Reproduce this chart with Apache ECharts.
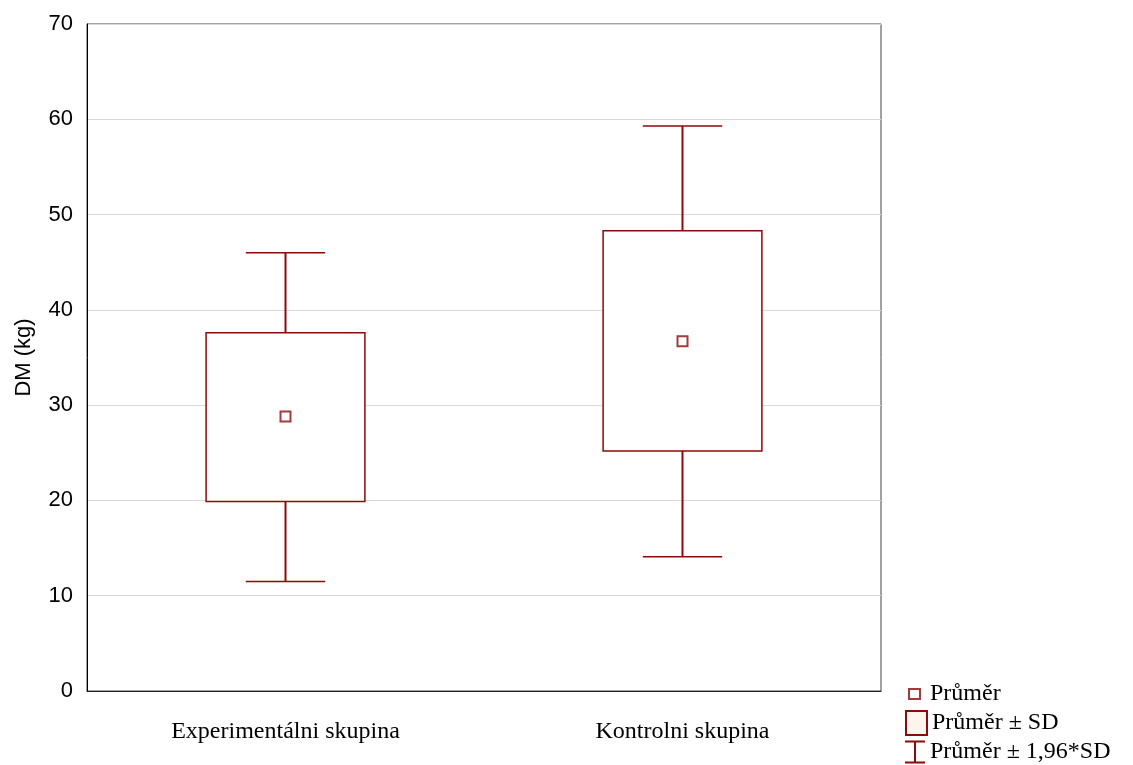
<!DOCTYPE html>
<html>
<head>
<meta charset="utf-8">
<script src="https://cdn.jsdelivr.net/npm/echarts@6/dist/echarts.min.js"></script>
<style>html,body{margin:0;padding:0;background:#fff}#chart{width:1133px;height:765px}</style>
</head>
<body>
<div id="chart"></div>
<script>
const categories = ['Experimentálni skupina', 'Kontrolni skupina'];
const means = [28.8, 36.7];
const sdLow = [19.9, 25.2];
const sdHigh = [37.6, 48.3];
const ciLow = [11.5, 14.1];
const ciHigh = [46.0, 59.3];
const yTicks = [0, 10, 20, 30, 40, 50, 60, 70];

const RED = '#8B0A0A';
const meanData = categories.map((c, i) => [i, means[i]]);
const boxData = categories.map((c, i) => [i, sdLow[i], sdHigh[i]]);
const whiskerData = categories.map((c, i) => [i, ciLow[i], sdLow[i], sdHigh[i], ciHigh[i]]);

const chart = echarts.init(document.getElementById('chart'));
const serif = 'Liberation Serif, Times New Roman, serif';
const sans = 'Liberation Sans, Arial, sans-serif';

function renderBox(params, api) {
  const x = api.value(0);
  const lo = api.coord([x, api.value(1)]);
  const hi = api.coord([x, api.value(2)]);
  const bw = api.size([1, 0])[0] * 0.4;
  return {
    type: 'rect',
    shape: { x: lo[0] - bw / 2, y: hi[1], width: bw, height: lo[1] - hi[1] },
    style: { fill: '#ffffff', stroke: RED, lineWidth: 1.5 }
  };
}
function renderWhisker(params, api) {
  const x = api.value(0);
  const pLo = api.coord([x, api.value(1)]);
  const pBl = api.coord([x, api.value(2)]);
  const pBh = api.coord([x, api.value(3)]);
  const pHi = api.coord([x, api.value(4)]);
  const cw = api.size([1, 0])[0] * 0.2;
  const st = { stroke: RED, lineWidth: 2 };
  const cs = { stroke: RED, lineWidth: 1.5 };
  return {
    type: 'group',
    children: [
      { type: 'line', shape: { x1: pHi[0], y1: pHi[1], x2: pBh[0], y2: pBh[1] }, style: st },
      { type: 'line', shape: { x1: pBl[0], y1: pBl[1], x2: pLo[0], y2: pLo[1] }, style: st },
      { type: 'line', shape: { x1: pHi[0] - cw / 2, y1: pHi[1], x2: pHi[0] + cw / 2, y2: pHi[1] }, style: cs },
      { type: 'line', shape: { x1: pLo[0] - cw / 2, y1: pLo[1], x2: pLo[0] + cw / 2, y2: pLo[1] }, style: cs }
    ]
  };
}

const legendText = { fontFamily: serif, fontSize: 24, color: '#000' };
const option = {
  animation: false,
  backgroundColor: '#ffffff',
  grid: { left: 87, top: 24, right: 252, bottom: 74, show: true, borderColor: '#444', borderWidth: 1, backgroundColor: 'transparent' },
  xAxis: {
    type: 'category',
    data: categories,
    boundaryGap: true,
    axisLine: { lineStyle: { color: '#222', width: 1 } },
    axisTick: { inside: true, alignWithLabel: true, length: 5, lineStyle: { color: '#000' } },
    axisLabel: { fontFamily: serif, fontSize: 24, color: '#000', margin: 29 },
    splitLine: { show: false }
  },
  yAxis: {
    type: 'value',
    min: yTicks[0],
    max: yTicks[yTicks.length - 1],
    interval: 10,
    name: 'DM (kg)',
    nameLocation: 'middle',
    nameRotate: 90,
    nameGap: 52,
    nameTextStyle: { fontFamily: sans, fontSize: 22, color: '#000' },
    axisLine: { show: true, lineStyle: { color: '#000', width: 1 } },
    axisTick: { inside: true, length: 6, lineStyle: { color: '#000' } },
    axisLabel: { fontFamily: sans, fontSize: 22, color: '#000', margin: 14 },
    splitLine: { show: true, lineStyle: { color: '#d9d9d9', width: 1 } }
  },
  legend: [
    {
      left: 908, top: 682, padding: 0, selectedMode: false,
      itemWidth: 11, itemHeight: 10,
      textStyle: Object.assign({ padding: [0, 0, 0, 5] }, legendText),
      data: [{ name: 'Průměr', icon: 'rect', itemStyle: { color: '#ffffff', borderColor: RED, borderWidth: 2 } }]
    },
    {
      left: 905, top: 710, padding: 0, selectedMode: false,
      itemWidth: 21, itemHeight: 24,
      textStyle: legendText,
      data: [{ name: 'Průměr ± SD', icon: 'rect', itemStyle: { color: '#fdf5ec', borderColor: RED, borderWidth: 2 } }]
    },
    {
      left: 905, top: 740, padding: 0, selectedMode: false,
      itemWidth: 20, itemHeight: 23,
      textStyle: legendText,
      data: [{ name: 'Průměr ± 1,96*SD', icon: 'path://M0,0H20V2H11V21H20V23H0V21H9V2H0Z', itemStyle: { color: RED, borderWidth: 0 } }]
    }
  ],
  series: [
    {
      name: 'Průměr ± 1,96*SD',
      type: 'custom',
      renderItem: renderWhisker,
      itemStyle: { color: RED },
      data: whiskerData,
      z: 2
    },
    {
      name: 'Průměr ± SD',
      type: 'custom',
      renderItem: renderBox,
      itemStyle: { color: '#fdf5ec' },
      data: boxData,
      z: 3
    },
    {
      name: 'Průměr',
      type: 'scatter',
      symbol: 'rect',
      symbolSize: 10,
      itemStyle: { color: '#ffffff', borderColor: RED, borderWidth: 2 },
      data: meanData,
      z: 4
    }
  ]
};
chart.setOption(option);
</script>
</body>
</html>
